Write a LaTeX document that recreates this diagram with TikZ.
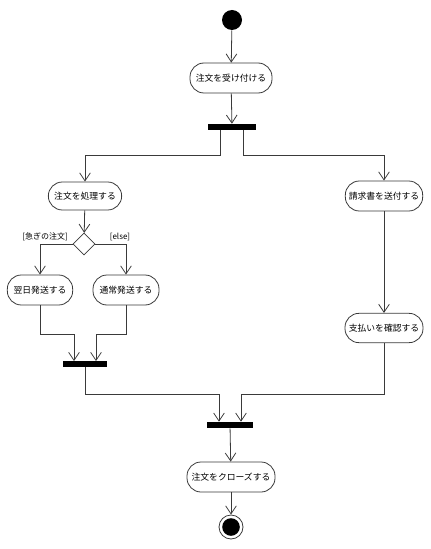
\documentclass[tikz,border=0pt]{standalone}
\usepackage{fontspec}
\newfontfamily\jp{Noto Sans CJK JP}
\usetikzlibrary{shapes.geometric,arrows.meta,calc}
\definecolor{ln}{HTML}{3A3A3A}
\begin{document}
\begin{tikzpicture}[x=0.75pt,y=-0.75pt,
  act/.style={draw=ln, line width=0.6pt, rounded corners=10.5pt, minimum height=22.5pt, inner sep=1pt, font=\jp\fontsize{6.6}{8}\selectfont},
  bar/.style={fill=black, inner sep=0pt},
  arr/.style={draw=ln, line width=0.6pt, -{Straight Barb[length=6pt,width=8pt,line width=0.6pt]}},
  guard/.style={inner sep=0pt, font=\jp\fontsize{6}{7}\selectfont},
]
\useasboundingbox (0,0) rectangle (431,549);
\node[circle, fill=black, minimum size=15pt, inner sep=0pt] (start) at (232,20) {};
\node[act, minimum width=61.5pt] (a1) at (231,78) {注文を受け付ける};
\node[bar, minimum width=36pt, minimum height=4.5pt] (fork1) at (232,127) {};
\node[act, minimum width=55pt, minimum height=21pt] (a2) at (85,196) {注文を処理する};
\node[act, minimum width=58pt] (a3) at (384,196) {請求書を送付する};
\node[diamond, draw=ln, line width=0.6pt, fill=white, minimum width=16.5pt, minimum height=16.5pt, inner sep=0pt] (dec) at (84,244) {};
\node[guard] (g1) at (45,237) {[急ぎの注文]};
\node[guard] (g2) at (120,237) {[else]};
\node[act, minimum width=49pt] (a4) at (40,290) {翌日発送する};
\node[act, minimum width=49.5pt] (a5) at (126,290) {通常発送する};
\node[bar, minimum width=33pt, minimum height=4pt] (join1) at (85,364) {};
\node[act, minimum width=58.5pt, minimum height=22pt] (a6) at (384,328) {支払いを確認する};
\node[bar, minimum width=34pt, minimum height=4.5pt] (join2) at (230,425) {};
\node[act, minimum width=66pt] (a7) at (231,477) {注文をクローズする};
\node[circle, draw=ln, line width=0.6pt, minimum size=18pt, inner sep=0pt] (end) at (231,527) {};
\fill[black] (end.center) circle (6.6pt);

\draw[arr] (start) -- (a1);
\draw[arr] (a1) -- (fork1);
\draw[arr] ($(fork1.south)+(-12,0)$) -- ++(0,25) -| (a2.north);
\draw[arr] ($(fork1.south)+(11,0)$) -- ++(0,25) -| (a3.north);
\draw[arr] (a2) -- (dec);
\draw[arr] (dec.west) -| (a4.north);
\draw[arr] (dec.east) -| (a5.north);
\draw[arr] (a4.south) |- ($(join1.north)+(-11,-27)$) -- ($(join1.north)+(-11,0)$);
\draw[arr] (a5.south) |- ($(join1.north)+(11,-27)$) -- ($(join1.north)+(11,0)$);
\draw[arr] (a3) -- (a6);
\draw[arr] (join1.south) |- ($(join2.north)+(-11,-27)$) -- ($(join2.north)+(-11,0)$);
\draw[arr] (a6.south) |- ($(join2.north)+(11,-27)$) -- ($(join2.north)+(11,0)$);
\draw[arr] (join2) -- (a7);
\draw[arr] (a7) -- (end);
\end{tikzpicture}
\end{document}
